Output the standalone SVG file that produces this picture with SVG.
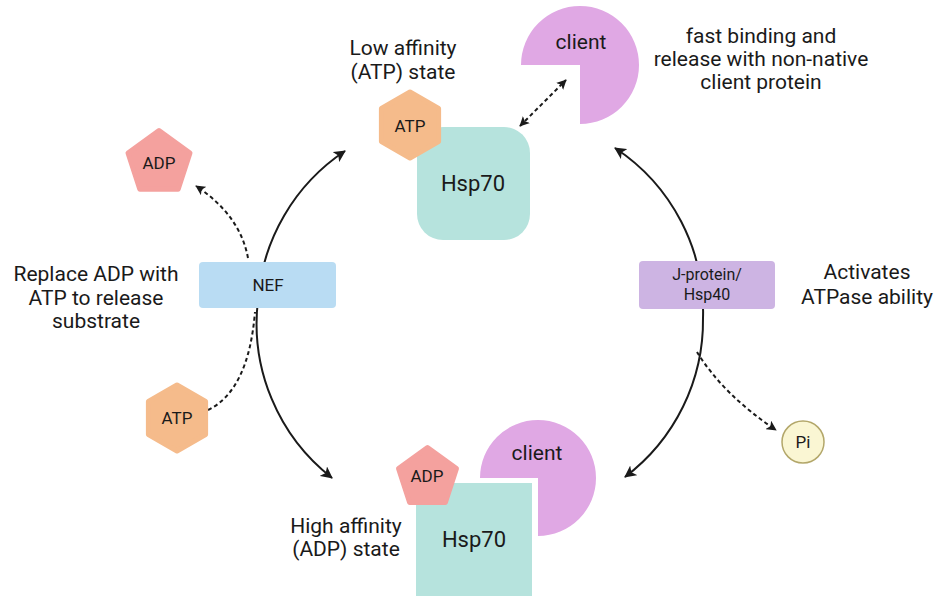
<svg xmlns="http://www.w3.org/2000/svg" width="935" height="596" viewBox="0 0 935 596">
<defs>
<marker id="ah" viewBox="0 0 12 12" refX="11" refY="6" markerWidth="12" markerHeight="12" markerUnits="userSpaceOnUse" orient="auto-start-reverse">
<path d="M0,0 L12,6 L0,12 L3,6 Z" fill="#1a1a1a"/>
</marker>
<marker id="ahs" viewBox="0 0 12 12" refX="11" refY="6" markerWidth="10" markerHeight="10" markerUnits="userSpaceOnUse" orient="auto-start-reverse">
<path d="M0,0 L12,6 L0,12 L3,6 Z" fill="#1a1a1a"/>
</marker>
</defs>
<style>
text{font-family:Roboto,"Liberation Sans",sans-serif;fill:#1a1a1a;text-anchor:middle}
.lbl{font-size:21px}
.big{font-size:22px}
.sm{font-size:17px}
.xs{font-size:16px}
.solid{fill:none;stroke:#1a1a1a;stroke-width:2}
.dash{fill:none;stroke:#1a1a1a;stroke-width:2;stroke-dasharray:4 3}
.hsp{fill:#b6e3dd}
.atp{fill:#f5bb8b;stroke:#f5bb8b;stroke-width:5;stroke-linejoin:round}
.adp{fill:#f4a19e;stroke:#f4a19e;stroke-width:5;stroke-linejoin:round}
.client{fill:#e0a8e4}
</style>
<rect width="935" height="596" fill="#ffffff"/>

<g id="connectors">
<path class="solid" d="M258,300 A196,196 0 0 1 345,151" marker-end="url(#ah)"/>
<path class="solid" d="M258,300 A196,196 0 0 0 332,478" marker-end="url(#ah)"/>
<path class="solid" d="M703,318 A196,196 0 0 0 615,148" marker-end="url(#ah)"/>
<path class="solid" d="M703,318 A196,196 0 0 1 625,477" marker-end="url(#ah)"/>
<path class="dash" d="M248,258 Q240,215 196,186" marker-end="url(#ahs)"/>
<path class="dash" d="M208,410 Q248.5,390.5 255,312"/>
<path class="dash" d="M697,352 Q723.5,395 776,430" marker-end="url(#ahs)"/>
<path class="dash" d="M520,126 L566,80" marker-start="url(#ahs)" marker-end="url(#ahs)"/>
</g>

<g id="label-low">
<text class="lbl" x="403" y="55">Low affinity</text>
<text class="lbl" x="403" y="79">(ATP) state</text>
</g>

<g id="hsp70-top">
<rect class="hsp" x="417" y="127" width="113" height="113" rx="26"/>
<text class="big" x="473" y="191">Hsp70</text>
</g>

<g id="atp-top">
<polygon class="atp" points="410,92 438.6,108.5 438.6,141.5 410,158 381.4,141.5 381.4,108.5"/>
<text class="sm" x="410" y="132">ATP</text>
</g>

<g id="client-top">
<path class="client" d="M580,65 L580,124 A59,59 0 1 0 521,65 Z"/>
<text class="lbl" x="581" y="49">client</text>
</g>

<g id="label-fast">
<text class="lbl" x="761" y="43">fast binding and</text>
<text class="lbl" x="761" y="66">release with non-native</text>
<text class="lbl" x="761" y="89">client protein</text>
</g>

<g id="adp-left">
<polygon class="adp" points="159,130.5 190,153 178.2,189.2 139.8,189.2 128,153"/>
<text class="sm" x="159" y="169">ADP</text>
</g>

<g id="label-replace">
<text class="lbl" x="96" y="281">Replace ADP with</text>
<text class="lbl" x="96" y="305">ATP to release</text>
<text class="lbl" x="96" y="328">substrate</text>
</g>

<g id="nef">
<rect x="199" y="262" width="137" height="46" rx="4" fill="#b9dcf3"/>
<text class="sm" x="268" y="291">NEF</text>
</g>

<g id="atp-left">
<polygon class="atp" points="177,385 205.6,401.5 205.6,434.5 177,451 148.4,434.5 148.4,401.5"/>
<text class="sm" x="177" y="424">ATP</text>
</g>

<g id="jprotein">
<rect x="639" y="261" width="136" height="48" rx="4" fill="#cdb4e3"/>
<text class="xs" x="707" y="280">J-protein/</text>
<text class="xs" x="707" y="300">Hsp40</text>
</g>

<g id="label-activates">
<text class="lbl" x="867" y="279">Activates</text>
<text class="lbl" x="867" y="304">ATPase ability</text>
</g>

<g id="pi">
<circle cx="803" cy="442" r="21" fill="#faf6d3" stroke="#b3a76a" stroke-width="1.5"/>
<text class="sm" x="803" y="448">Pi</text>
</g>

<g id="hsp70-bottom">
<rect class="hsp" x="416" y="483" width="116" height="130"/>
<text class="big" x="474" y="547">Hsp70</text>
</g>

<g id="client-bottom">
<path class="client" d="M538,478 L538,536 A58,58 0 1 0 480,478 Z"/>
<text class="lbl" x="537" y="460">client</text>
</g>

<g id="adp-bottom">
<polygon class="adp" points="427.5,447.5 456.5,468.5 445.4,502.5 409.6,502.5 398.5,468.5"/>
<text class="sm" x="427" y="482">ADP</text>
</g>

<g id="label-high">
<text class="lbl" x="346" y="533">High affinity</text>
<text class="lbl" x="346" y="556">(ADP) state</text>
</g>
</svg>
